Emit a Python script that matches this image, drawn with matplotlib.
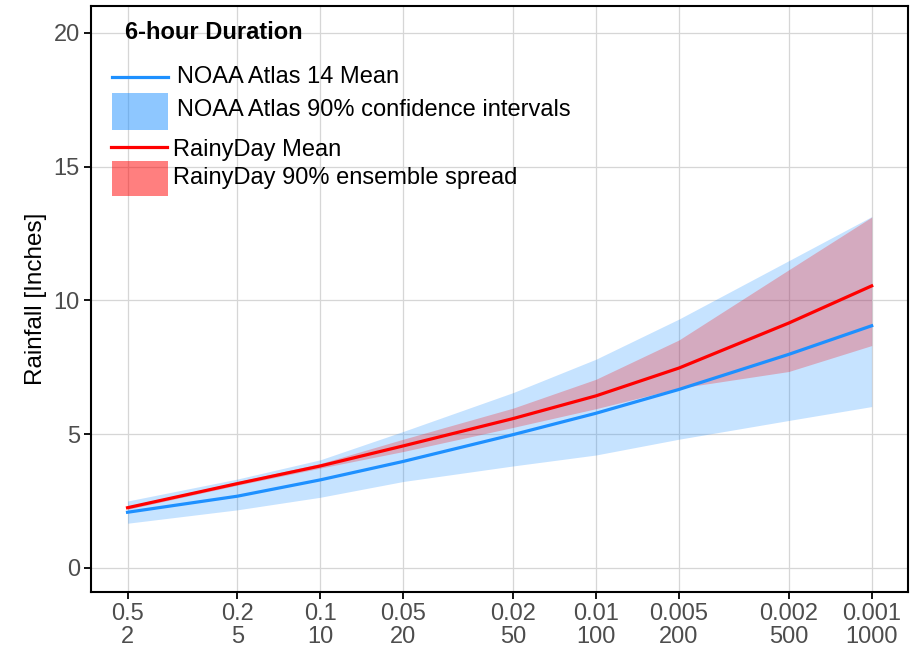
import numpy as np
import matplotlib.pyplot as plt
from matplotlib.patches import Rectangle
from matplotlib.lines import Line2D

plt.rcParams['font.family'] = ['Liberation Sans', 'DejaVu Sans']

# return periods (years) and rainfall depths (inches), 6-hour duration
return_period = [2, 5, 10, 20, 50, 100, 200, 500, 1000]
noaa_mean = [2.08, 2.68, 3.29, 3.98, 4.98, 5.78, 6.67, 7.98, 9.05]
noaa_lower = [1.67, 2.17, 2.64, 3.23, 3.81, 4.22, 4.81, 5.51, 6.03]
noaa_upper = [2.50, 3.32, 4.04, 5.10, 6.55, 7.80, 9.30, 11.48, 13.13]
rainy_mean = [2.25, 3.15, 3.81, 4.56, 5.58, 6.43, 7.47, 9.15, 10.54]
rainy_lower = [2.19, 3.09, 3.73, 4.35, 5.25, 5.95, 6.72, 7.34, 8.31]
rainy_upper = [2.31, 3.22, 3.90, 4.81, 5.97, 7.05, 8.52, 11.14, 13.11]
yticks = [0, 5, 10, 15, 20]

BLUE = '#1E90FF'
RED = '#FF0000'

fig = plt.figure(figsize=(9.2, 6.52), dpi=100)
ax = fig.add_axes([91/920, 60/652, 816.7/920, 586/652])

# bands and means (red band drawn over the blue mean like the original)
ax.fill_between(return_period, noaa_lower, noaa_upper, color=BLUE, alpha=0.25, lw=0)
ax.plot(return_period, noaa_mean, color=BLUE, lw=2.3)
ax.fill_between(return_period, rainy_lower, rainy_upper, color=RED, alpha=0.25, lw=0)
ax.plot(return_period, rainy_mean, color=RED, lw=2.3)

ax.set_xscale('log')
ax.set_xlim(1.474, 1351)
ax.set_ylim(-0.9, 21.0)
ax.set_xticks(return_period)
ax.set_xticklabels([f"{1/t:g}\n{t}" for t in return_period], linespacing=1.05)
ax.xaxis.set_minor_locator(plt.NullLocator())
ax.set_yticks(yticks)
ax.grid(True, color='#D6D6D6', lw=0.9)
ax.set_axisbelow(True)

for s in ax.spines.values():
    s.set_linewidth(1.5)
    s.set_color('black')
ax.tick_params(axis='both', length=5, width=1.3, color='black', labelcolor='#4D4D4D',
               labelsize=17, pad=3)
ax.set_ylabel('Rainfall [Inches]', fontsize=17.5, labelpad=5)

# manual legend (axes fraction coordinates)
tr = ax.transAxes
ax.text(0.0416, 0.954, '6-hour Duration', transform=tr, fontsize=17, fontweight='bold',
        va='center', ha='left')
ax.add_line(Line2D([0.0257, 0.0943], [0.879, 0.879], transform=tr, color=BLUE, lw=2.3))
ax.add_patch(Rectangle((0.0257, 0.788), 0.0686, 0.0635, transform=tr,
                       facecolor=BLUE, alpha=0.5, lw=0))
ax.add_line(Line2D([0.0245, 0.0931], [0.7594, 0.7594], transform=tr, color=RED, lw=2.3))
ax.add_patch(Rectangle((0.0257, 0.6758), 0.0686, 0.0597, transform=tr,
                       facecolor=RED, alpha=0.5, lw=0))
ax.text(0.1053, 0.8794, 'NOAA Atlas 14 Mean', transform=tr, fontsize=17, va='center')
ax.text(0.1053, 0.8217, 'NOAA Atlas 90% confidence intervals', transform=tr, fontsize=17, va='center')
ax.text(0.1004, 0.7543, 'RainyDay Mean', transform=tr, fontsize=17, va='center')
ax.text(0.1004, 0.7065, 'RainyDay 90% ensemble spread', transform=tr, fontsize=17, va='center')

fig.savefig('out.png', dpi=100)
